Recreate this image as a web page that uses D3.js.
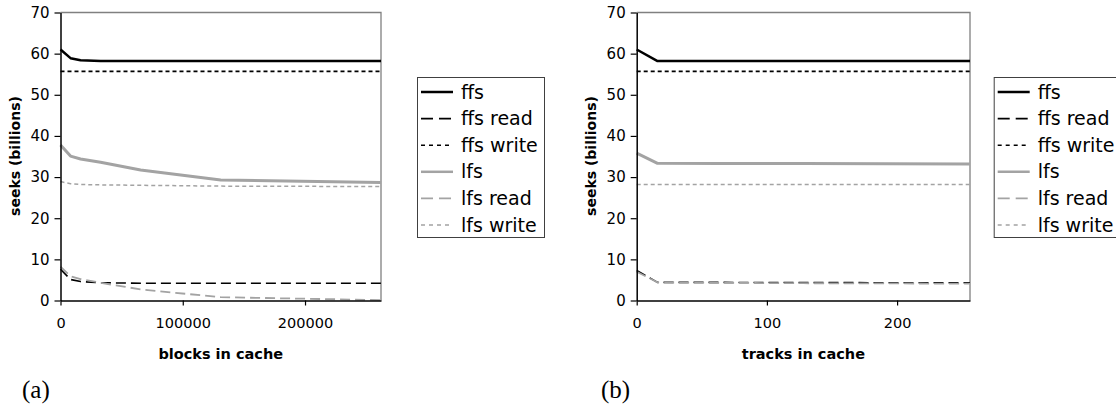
<!DOCTYPE html>
<html><head><meta charset="utf-8">
<script src="https://cdn.jsdelivr.net/npm/d3@7"></script>
<style>
body{margin:0;background:#fff;}
svg{display:block;}
text{font-family:"DejaVu Sans",Verdana,sans-serif;fill:#000;}
</style></head>
<body><svg id="c" width="1116" height="408"></svg>
<script>
// Panel (a): blocks in cache
const blocksX = [0, 8192, 16384, 32768, 65536, 131072, 262144];
const aFfs      = [61.0, 58.9, 58.4, 58.2, 58.2, 58.2, 58.2];
const aFfsRead  = [7.6, 5.1, 4.6, 4.3, 4.2, 4.2, 4.2];
const aFfsWrite = [55.7, 55.7, 55.7, 55.7, 55.7, 55.7, 55.7];
const aLfs      = [37.8, 35.1, 34.4, 33.6, 31.7, 29.3, 28.7];
const aLfsRead  = [8.2, 5.9, 5.2, 4.3, 2.7, 0.8, 0.1];
const aLfsWrite = [28.9, 28.4, 28.2, 28.1, 28.0, 27.8, 27.7];
const blocksTicks = [0, 100000, 200000];

// Panel (b): tracks in cache
const tracksX = [0, 16, 64, 128, 256];
const bFfs      = [61.0, 58.2, 58.2, 58.2, 58.2];
const bFfsRead  = [7.3, 4.4, 4.4, 4.35, 4.3];
const bFfsWrite = [55.7, 55.7, 55.7, 55.7, 55.7];
const bLfs      = [35.8, 33.35, 33.3, 33.3, 33.2];
const bLfsRead  = [7.0, 4.4, 4.3, 4.2, 4.1];
const bLfsWrite = [28.2, 28.2, 28.2, 28.2, 28.2];
const tracksTicks = [0, 100, 200];

const yTicks = [0, 10, 20, 30, 40, 50, 60, 70];
const seriesNames = ["ffs", "ffs read", "ffs write", "lfs", "lfs read", "lfs write"];

const GRAY = "#a3a3a3";
const styles = [
  {color:"#000", width:2.5, dash:null, legDash:null},
  {color:"#000", width:1.6, dash:"10,5", legDash:"12,6"},
  {color:"#000", width:1.6, dash:"4,3", legDash:"4,4"},
  {color:GRAY, width:3, dash:null, legDash:null},
  {color:GRAY, width:1.8, dash:"10,5", legDash:"12,6"},
  {color:GRAY, width:1.5, dash:"4,3", legDash:"4,4"}
];

const svg = d3.select("#c");

function panel(opt){
  const g = svg.append("g");
  const x = d3.scaleLinear().domain(opt.xDomain).range([opt.left, opt.right]);
  const y = d3.scaleLinear().domain([0, 70]).range([300.5, 12.5]);

  // frame top/right
  g.append("path").attr("d", `M${opt.left},12.5H${opt.right}V300.5`)
    .attr("fill","none").attr("stroke","#808080").attr("stroke-width",1.3);

  // series
  const line = d3.line().x(d=>x(d[0])).y(d=>y(d[1]));
  [0,1,2,3,4,5].forEach(i=>{
    const pts = opt.xs.map((v,j)=>[v, opt.series[i][j]]);
    g.append("path").attr("d", line(pts)).attr("fill","none")
      .attr("stroke", styles[i].color).attr("stroke-width", styles[i].width)
      .attr("stroke-dasharray", styles[i].dash).attr("stroke-linejoin","round");
  });

  // y axis
  const ya = g.append("g").attr("transform",`translate(${opt.left},0)`)
    .call(d3.axisLeft(y).tickValues(yTicks).tickSize(6).tickPadding(5).tickSizeOuter(0));
  ya.select(".domain").attr("stroke","#000").attr("stroke-width",1.5);
  ya.selectAll(".tick line").attr("stroke","#000").attr("stroke-width",1.2);
  ya.selectAll(".tick text").style("font-size","15px").style("font-family","DejaVu Sans");

  // x axis
  const xa = g.append("g").attr("transform","translate(0,300.5)")
    .call(d3.axisBottom(x).tickValues(opt.xTicks).tickFormat(d3.format("d")).tickSize(5).tickPadding(12).tickSizeOuter(0));
  xa.select(".domain").attr("stroke","#000").attr("stroke-width",1.5);
  xa.selectAll(".tick line").attr("stroke","#000").attr("stroke-width",1.2);
  xa.selectAll(".tick text").style("font-size","14.5px").style("font-family","DejaVu Sans");

  // axis titles
  g.append("text").attr("x",(opt.left+opt.right)/2).attr("y",359)
    .attr("text-anchor","middle").style("font-size","14.5px").style("font-weight","bold")
    .text(opt.xTitle);
  g.append("text").attr("transform",`translate(${opt.left-41},156) rotate(-90)`)
    .attr("text-anchor","middle").style("font-size","14px").style("font-weight","bold")
    .text("seeks (billions)");

  // legend
  const lx = opt.legX, ly = 77;
  g.append("rect").attr("x",lx+0.5).attr("y",ly+0.5).attr("width",127).attr("height",160)
    .attr("fill","#fff").attr("stroke","#404040").attr("stroke-width",1);
  seriesNames.forEach((n,i)=>{
    const cy = ly + 15 + i*26.6;
    g.append("line").attr("x1",lx+4).attr("x2",lx+36).attr("y1",cy).attr("y2",cy)
      .attr("stroke",styles[i].color).attr("stroke-width",Math.min(styles[i].width,2.5))
      .attr("stroke-dasharray",styles[i].legDash);
    g.append("text").attr("x",lx+44).attr("y",cy+6.5).style("font-size","19px").text(n);
  });

  // panel label
  g.append("text").attr("x",opt.labX).attr("y",398).style("font-family","Liberation Serif, Times New Roman, serif")
    .style("font-size","25px").text(opt.label);
}

panel({left:60.5, right:381, xDomain:[0,262144], xTicks:blocksTicks, xs:blocksX,
  series:[aFfs,aFfsRead,aFfsWrite,aLfs,aLfsRead,aLfsWrite], xTitle:"blocks in cache",
  legX:417, labX:22, label:"(a)"});
panel({left:636.7, right:970, xDomain:[0,256], xTicks:tracksTicks, xs:tracksX,
  series:[bFfs,bFfsRead,bFfsWrite,bLfs,bLfsRead,bLfsWrite], xTitle:"tracks in cache",
  legX:993.7, labX:601, label:"(b)"});
</script></body></html>
